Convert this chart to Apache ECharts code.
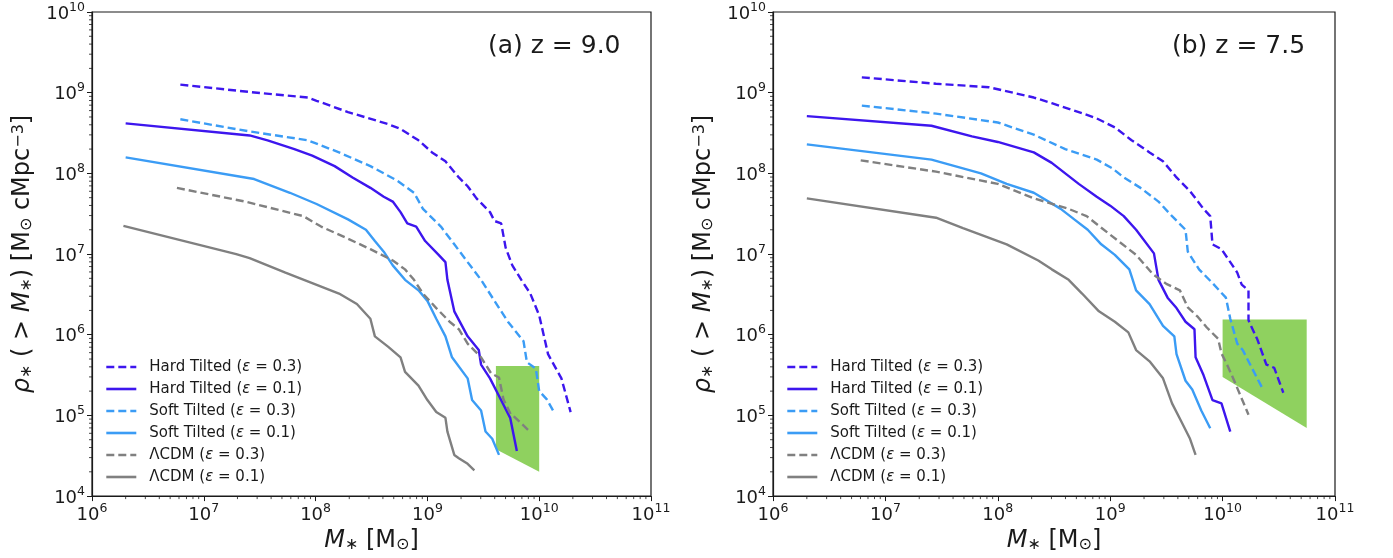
<!DOCTYPE html>
<html>
<head>
<meta charset="utf-8">
<script src="https://cdn.jsdelivr.net/npm/echarts@6/dist/echarts.min.js"></script>
<style>
html,body{margin:0;padding:0;background:#fff;}
#chart{width:1393px;height:558px;}
</style>
</head>
<body>
<div id="chart"></div>
<script>
// ---------- data (M* [Msun], rho*(>M*) [Msun cMpc^-3]) ----------
// Panel (a) z = 9.0
const hardTilted03_a = [[6.17e6,1.26e9],[2.57e7,1.02e9],[8.51e7,8.71e8],[1.02e8,7.94e8],[1.95e8,5.75e8],[4.47e8,4.07e8],[5.75e8,3.55e8],[8.32e8,2.57e8],[1.10e9,1.82e8],[1.45e9,1.41e8],[1.91e9,8.91e7],[2.29e9,6.92e7],[2.75e9,4.90e7],[3.63e9,3.31e7],[3.98e9,2.57e7],[4.57e9,2.40e7],[5.01e9,1.20e7],[5.75e9,7.24e6],[6.92e9,4.79e6],[8.32e9,3.24e6],[1.00e10,1.74e6],[1.20e10,5.75e5],[1.58e10,2.88e5],[1.91e10,1.10e5]];
const hardTilted01_a = [[2.00e6,4.17e8],[2.57e7,2.95e8],[3.72e7,2.57e8],[6.46e7,2.00e8],[9.33e7,1.66e8],[1.48e8,1.23e8],[2.14e8,8.91e7],[3.09e8,6.61e7],[4.07e8,5.13e7],[4.90e8,4.47e7],[5.75e8,3.31e7],[6.61e8,2.40e7],[7.94e8,2.19e7],[9.55e8,1.45e7],[1.26e9,9.77e6],[1.45e9,7.94e6],[1.51e9,4.79e6],[1.74e9,1.95e6],[2.29e9,9.55e5],[2.88e9,6.46e5],[3.02e9,4.27e5],[3.63e9,2.88e5],[4.37e9,1.74e5],[5.50e9,9.33e4],[6.31e9,3.63e4]];
const softTilted03_a = [[6.17e6,4.68e8],[2.57e7,3.31e8],[8.51e7,2.57e8],[1.62e8,1.82e8],[3.09e8,1.23e8],[5.37e8,8.13e7],[7.59e8,5.75e7],[9.12e8,3.63e7],[1.32e9,2.19e7],[1.74e9,1.32e7],[2.29e9,7.94e6],[3.02e9,4.79e6],[3.98e9,2.63e6],[5.25e9,1.45e6],[7.24e9,8.32e5],[7.76e9,4.57e5],[9.33e9,3.80e5],[1.00e10,2.00e5],[1.17e10,1.58e5],[1.38e10,1.05e5]];
const softTilted01_a = [[2.00e6,1.58e8],[2.82e7,8.51e7],[5.89e7,5.75e7],[1.02e8,4.17e7],[1.95e8,2.69e7],[2.82e8,2.00e7],[3.39e8,1.45e7],[4.07e8,1.07e7],[4.90e8,7.24e6],[6.31e8,4.79e6],[8.32e8,3.55e6],[1.00e9,2.63e6],[1.20e9,1.58e6],[1.45e9,9.55e5],[1.66e9,5.25e5],[2.29e9,2.88e5],[2.51e9,1.55e5],[3.02e9,1.15e5],[3.31e9,6.31e4],[3.80e9,5.13e4],[4.37e9,3.24e4]];
const lcdm03_a = [[5.75e6,6.61e7],[2.34e7,4.47e7],[7.76e7,2.95e7],[1.12e8,2.19e7],[1.95e8,1.55e7],[3.09e8,1.15e7],[4.90e8,8.32e6],[6.31e8,6.46e6],[7.59e8,4.79e6],[9.12e8,3.24e6],[1.20e9,2.14e6],[1.58e9,1.45e6],[1.91e9,1.17e6],[2.29e9,7.76e5],[3.02e9,5.25e5],[3.72e9,3.31e5],[4.37e9,2.95e5],[4.79e9,1.58e5],[5.62e9,1.00e5],[6.03e9,9.55e4],[7.94e9,6.61e4]];
const lcdm01_a = [[1.91e6,2.24e7],[1.95e7,1.00e7],[2.57e7,8.91e6],[5.37e7,5.89e6],[9.33e7,4.37e6],[1.62e8,3.24e6],[2.34e8,2.40e6],[3.09e8,1.58e6],[3.39e8,9.55e5],[4.47e8,7.08e5],[5.75e8,5.25e5],[6.31e8,3.47e5],[8.32e8,2.34e5],[1.00e9,1.55e5],[1.20e9,1.10e5],[1.45e9,9.33e4],[1.51e9,6.31e4],[1.74e9,3.24e4],[1.91e9,2.95e4],[2.29e9,2.51e4],[2.63e9,2.09e4]];
const obsRegion_a = [[4.1e9,4.1e5],[1.0e10,4.1e5],[1.0e10,2.0e4],[4.1e9,3.8e4]];

// Panel (b) z = 7.5
const hardTilted03_b = [[6.17e6,1.55e9],[2.82e7,1.29e9],[8.32e7,1.17e9],[2.09e8,8.71e8],[3.02e8,7.41e8],[5.75e8,5.50e8],[7.59e8,4.79e8],[1.10e9,3.72e8],[1.55e9,2.57e8],[2.24e9,1.82e8],[2.95e9,1.41e8],[3.89e9,8.91e7],[5.13e9,6.03e7],[6.76e9,3.63e7],[7.76e9,2.95e7],[8.13e9,1.32e7],[9.77e9,1.15e7],[1.17e10,7.94e6],[1.35e10,5.89e6],[1.48e10,4.17e6],[1.70e10,3.55e6],[1.70e10,1.51e6],[2.04e10,8.71e5],[2.45e10,4.27e5],[2.88e10,3.89e5],[3.47e10,1.91e5]];
const hardTilted01_b = [[2.00e6,5.13e8],[2.57e7,3.89e8],[5.89e7,2.88e8],[1.00e8,2.45e8],[2.09e8,1.82e8],[3.02e8,1.35e8],[5.25e8,7.41e7],[7.59e8,5.13e7],[1.00e9,3.98e7],[1.32e9,2.95e7],[1.70e9,2.00e7],[2.45e9,1.02e7],[2.69e9,4.79e6],[3.24e9,2.88e6],[3.89e9,2.14e6],[4.68e9,1.45e6],[5.62e9,1.17e6],[5.75e9,5.25e5],[6.76e9,3.16e5],[8.13e9,1.55e5],[9.77e9,1.41e5],[1.17e10,6.31e4]];
const softTilted03_b = [[6.17e6,6.92e8],[2.82e7,5.50e8],[1.00e8,4.27e8],[2.09e8,3.02e8],[3.98e8,2.00e8],[7.59e8,1.48e8],[1.05e9,1.15e8],[1.32e9,8.91e7],[1.86e9,6.61e7],[2.69e9,4.47e7],[3.55e9,2.95e7],[4.68e9,2.00e7],[4.90e9,1.07e7],[6.17e9,6.46e6],[8.13e9,4.37e6],[1.07e10,2.88e6],[1.17e10,1.58e6],[1.35e10,7.76e5],[1.51e10,6.46e5],[1.82e10,3.89e5],[2.29e10,2.09e5]];
const softTilted01_b = [[2.00e6,2.29e8],[2.57e7,1.48e8],[7.08e7,1.00e8],[1.20e8,7.41e7],[2.09e8,5.75e7],[3.63e8,3.63e7],[4.79e8,2.69e7],[6.31e8,2.00e7],[8.32e8,1.32e7],[1.10e9,9.77e6],[1.48e9,6.46e6],[1.70e9,3.55e6],[2.24e9,2.40e6],[2.95e9,1.29e6],[3.72e9,9.55e5],[3.89e9,5.75e5],[4.68e9,2.69e5],[5.37e9,2.09e5],[6.46e9,1.15e5],[7.76e9,6.92e4]];
const lcdm03_b = [[6.03e6,1.45e8],[2.82e7,1.05e8],[1.00e8,7.41e7],[2.09e8,4.90e7],[4.27e8,3.63e7],[6.17e8,2.95e7],[9.77e8,1.78e7],[1.70e9,9.77e6],[2.40e9,5.62e6],[3.16e9,4.27e6],[4.17e9,3.55e6],[4.90e9,2.19e6],[6.03e9,1.66e6],[7.24e9,1.23e6],[9.12e9,8.91e5],[9.77e9,5.89e5],[1.12e10,3.98e5],[1.26e10,2.75e5],[1.70e10,1.02e5]];
const lcdm01_b = [[2.00e6,4.90e7],[2.82e7,2.82e7],[4.90e7,2.09e7],[1.20e8,1.32e7],[2.29e8,8.32e6],[3.02e8,6.46e6],[4.27e8,4.79e6],[5.62e8,3.24e6],[7.94e8,1.95e6],[1.10e9,1.45e6],[1.45e9,1.07e6],[1.70e9,6.46e5],[2.24e9,4.68e5],[2.95e9,2.88e5],[3.55e9,1.41e5],[4.27e9,8.51e4],[5.13e9,5.13e4],[5.75e9,3.24e4]];
const obsRegion_b = [[1.0e10,1.55e6],[5.6e10,1.55e6],[5.6e10,7.0e4],[1.0e10,3.0e5]];

const seriesNames = ['Hard Tilted (ε = 0.3)','Hard Tilted (ε = 0.1)','Soft Tilted (ε = 0.3)','Soft Tilted (ε = 0.1)','ΛCDM (ε = 0.3)','ΛCDM (ε = 0.1)'];
const panelTitles = ['(a) z = 9.0','(b) z = 7.5'];
const xRange = [1e6, 1e11];
const yRange = [1e4, 1e10];
// minor tick positions (2..9 x 10^k)
const xMinorTicks = [];
for (let k = 6; k < 11; k++) for (let m = 2; m <= 9; m++) xMinorTicks.push(m * Math.pow(10, k));
const yMinorTicks = [];
for (let k = 4; k < 10; k++) for (let m = 2; m <= 9; m++) yMinorTicks.push(m * Math.pow(10, k));

// ---------- styles ----------
const FONT = 'DejaVu Sans';
const INK = '#1a1a1a';
const HARD = '#3d16ee';
const SOFT = '#3b9cf5';
const GREY = '#808080';
const GREEN = '#8fd15f';
const styles = [
  {color: HARD, type: [8, 4]},
  {color: HARD, type: 'solid'},
  {color: SOFT, type: [8, 4]},
  {color: SOFT, type: 'solid'},
  {color: GREY, type: [8, 4]},
  {color: GREY, type: 'solid'}
];
const panelData = [
  [hardTilted03_a, hardTilted01_a, softTilted03_a, softTilted01_a, lcdm03_a, lcdm01_a],
  [hardTilted03_b, hardTilted01_b, softTilted03_b, softTilted01_b, lcdm03_b, lcdm01_b]
];
const regions = [obsRegion_a, obsRegion_b];

const grids = [
  {left: 92, top: 12, width: 559, height: 488},
  {left: 773, top: 12, width: 562, height: 488}
];

const tickRich = {
  b: {fontFamily: FONT, fontSize: 18, color: INK, lineHeight: 22, verticalAlign: 'bottom'},
  e: {fontFamily: FONT, fontSize: 12.5, color: INK, lineHeight: 12, verticalAlign: 'top'}
};
const powFmt = v => '{b|10}{e|' + Math.round(Math.log10(v)) + '}';

const nameRich = {
  i: {fontFamily: FONT, fontSize: 24, fontStyle: 'italic', color: INK},
  n: {fontFamily: FONT, fontSize: 24, color: INK},
  s: {fontFamily: FONT, fontSize: 16, color: INK, verticalAlign: 'bottom', lineHeight: 24},
  p: {fontFamily: FONT, fontSize: 16, color: INK, verticalAlign: 'top', lineHeight: 15}
};

const xAxes = [], yAxes = [], series = [], legends = [], titles = [];
grids.forEach((g, gi) => {
  xAxes.push({
    type: 'log', logBase: 10, gridIndex: gi, min: xRange[0], max: xRange[1],
    splitNumber: 5,
    axisLine: {show: true, lineStyle: {color: INK, width: 1.2}},
    axisTick: {show: true, inside: false, length: 5, lineStyle: {color: INK, width: 1}},
    axisLabel: {formatter: powFmt, rich: tickRich, margin: 6},
    splitLine: {show: false},
    name: '{i|M}{s|∗}{n| [M}{s|⊙}{n|]}', nameLocation: 'middle', nameGap: 22,
    nameTextStyle: {rich: nameRich}
  });
  yAxes.push({
    type: 'log', logBase: 10, gridIndex: gi, min: yRange[0], max: yRange[1],
    splitNumber: 6,
    axisLine: {show: true, lineStyle: {color: INK, width: 1.2}},
    axisTick: {show: true, inside: false, length: 5, lineStyle: {color: INK, width: 1}},
    axisLabel: {formatter: powFmt, rich: tickRich, margin: 7},
    splitLine: {show: false},
    name: '{i|ρ}{s|∗}{n| ( > }{i|M}{s|∗}{n|) [M}{s|⊙}{n| cMpc}{p|−3}{n|]}',
    nameLocation: 'middle', nameGap: 57, nameRotate: 90,
    nameTextStyle: {rich: nameRich}
  });
  // observational region
  const poly = regions[gi];
  series.push({
    type: 'custom', xAxisIndex: gi, yAxisIndex: gi, z: 1, silent: true, clip: false,
    data: [poly[0]],
    renderItem: (params, api) => ({
      type: 'polygon',
      shape: {points: poly.map(p => api.coord(p))},
      style: {fill: GREEN}
    })
  });
  // minor ticks
  series.push({
    type: 'custom', xAxisIndex: gi, yAxisIndex: gi, z: 3, silent: true, clip: false,
    data: xMinorTicks.map(v => [v, yRange[0]]),
    renderItem: (params, api) => {
      const p = api.coord([api.value(0), api.value(1)]);
      return {type: 'line', shape: {x1: p[0], y1: p[1], x2: p[0], y2: p[1] + 3}, style: {stroke: INK, lineWidth: 0.8}};
    }
  });
  series.push({
    type: 'custom', xAxisIndex: gi, yAxisIndex: gi, z: 3, silent: true, clip: false,
    data: yMinorTicks.map(v => [xRange[0], v]),
    renderItem: (params, api) => {
      const p = api.coord([api.value(0), api.value(1)]);
      return {type: 'line', shape: {x1: p[0] - 3, y1: p[1], x2: p[0], y2: p[1]}, style: {stroke: INK, lineWidth: 0.8}};
    }
  });
  seriesNames.forEach((nm, si) => {
    series.push({
      name: nm, type: 'line', xAxisIndex: gi, yAxisIndex: gi, z: 2,
      data: panelData[gi][si], showSymbol: false, symbol: 'none',
      lineStyle: {color: styles[si].color, width: 2.4, type: styles[si].type},
      itemStyle: {color: styles[si].color},
      emphasis: {disabled: true}
    });
  });
  legends.push({
    data: seriesNames, orient: 'vertical', left: g.left + 8, top: 354,
    itemWidth: 30, itemHeight: 16, itemGap: 6, padding: 5,
    selectedMode: false,
    itemStyle: {opacity: 0},
    lineStyle: {width: 2.6},
    formatter: nm => nm.replace('ε', '{e|ε}'),
    textStyle: {
      fontFamily: FONT, fontSize: 15, color: INK, lineHeight: 16, padding: [0, 0, 0, 8],
      rich: {e: {fontFamily: FONT, fontSize: 15, fontStyle: 'italic', color: INK}}
    }
  });
  titles.push({
    text: panelTitles[gi], left: g.left + g.width - 168, top: 29,
    textStyle: {fontFamily: FONT, fontSize: 25, fontWeight: 'normal', color: INK}
  });
});

const chart = echarts.init(document.getElementById('chart'), null, {renderer: 'canvas'});
chart.setOption({
  animation: false,
  backgroundColor: '#ffffff',
  title: titles,
  grid: grids.map(g => Object.assign({show: true, borderColor: INK, borderWidth: 1.2, backgroundColor: 'transparent'}, g)),
  xAxis: xAxes,
  yAxis: yAxes,
  legend: legends,
  series: series
});
</script>
</body>
</html>
